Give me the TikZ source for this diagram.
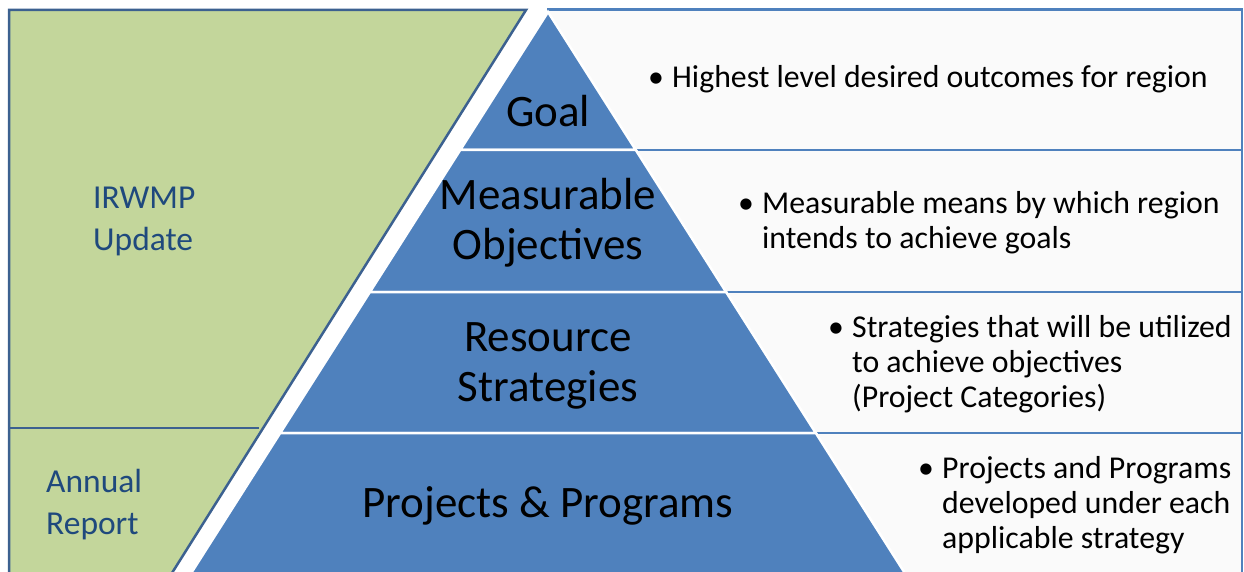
\documentclass[tikz,border=0pt]{standalone}
\usepackage{fontspec}
\setmainfont{Carlito}
\definecolor{pyr}{HTML}{4F81BD}
\definecolor{grn}{HTML}{C3D69B}
\definecolor{grnline}{HTML}{3C6190}
\definecolor{lbl}{HTML}{1F497D}
\definecolor{boxfill}{HTML}{FAFAFA}
\newcommand\ctrstack[1]{\vtop{\halign{\hfil##\hfil\cr#1\crcr}}}
\newcommand\lftstack[1]{\vtop{\halign{##\hfil\cr#1\crcr}}}
\begin{document}
\begin{tikzpicture}[x=1pt,y=-1pt,
  rowbox/.style={draw=pyr, fill=boxfill, line width=2.5pt},
  band/.style={fill=pyr, draw=white, line width=2.5pt, line join=miter},
  greenpart/.style={fill=grn, draw=grnline, line width=2.5pt, line join=miter},
  bandlbl/.style={font=\fontsize{45}{50}\selectfont, text=black, inner sep=0pt, anchor=base},
  bullettxt/.style={font=\fontsize{31.8}{35}\selectfont, text=black, inner sep=0pt, anchor=base west},
  sidelbl/.style={font=\fontsize{33.5}{42}\selectfont, text=lbl, inner sep=0pt, anchor=base west}]
\useasboundingbox (0,0) rectangle (1244,572);
\begin{scope}
\clip (0,0) rectangle (1244,572);
% right-hand boxes
\draw[rowbox] (548,9.5) rectangle (1242,150);
\draw[rowbox] (548,150) rectangle (1242,292);
\draw[rowbox] (548,292) rectangle (1242,433);
\draw[rowbox] (548,433) rectangle (1242,600);
% green part
\draw[greenpart] (9,600) -- (9,10) -- (526,10) -- (155,600);
\draw[grnline, line width=2.5pt] (9,428) -- (259.3,428);
% pyramid
\coordinate (apex) at (548,12);
\draw[band] (apex) -- (635.8,150) -- (460.2,150) -- cycle;
\draw[band] (460.2,150) -- (635.8,150) -- (726.1,292) -- (369.9,292) -- cycle;
\draw[band] (369.9,292) -- (726.1,292) -- (815.8,433) -- (280.2,433) -- cycle;
\draw[band] (280.2,433) -- (815.8,433) -- (915.6,590) -- (180.4,590) -- cycle;
\end{scope}
% pyramid labels
\node[bandlbl] (goal) at (548,127) {Goal};
\node[bandlbl] (meas) at (548,209) {\ctrstack{Measurable\cr Objectives}};
\node[bandlbl] (res) at (548,351) {\ctrstack{Resource\cr Strategies}};
\node[bandlbl] (proj) at (548,517) {Projects \& Programs};
% bullet texts
\node[bullettxt] (t1) at (648,88) {\makebox[24pt][l]{•}\lftstack{Highest level desired outcomes for region}};
\node[bullettxt] (t2) at (738,213) {\makebox[24pt][l]{•}\lftstack{Measurable means by which region\cr intends to achieve goals}};
\node[bullettxt] (t3) at (828,337) {\makebox[24pt][l]{•}\lftstack{Strategies that will be utilized\cr to achieve objectives\cr (Project Categories)}};
\node[bullettxt] (t4) at (918,478) {\makebox[24pt][l]{•}\lftstack{Projects and Programs\cr developed under each\cr applicable strategy}};
% side labels
\node[sidelbl] (irwmp) at (93,208) {\lftstack{IRWMP\cr Update}};
\node[sidelbl] (annual) at (46,492) {\lftstack{Annual\cr Report}};
\end{tikzpicture}
\end{document}
